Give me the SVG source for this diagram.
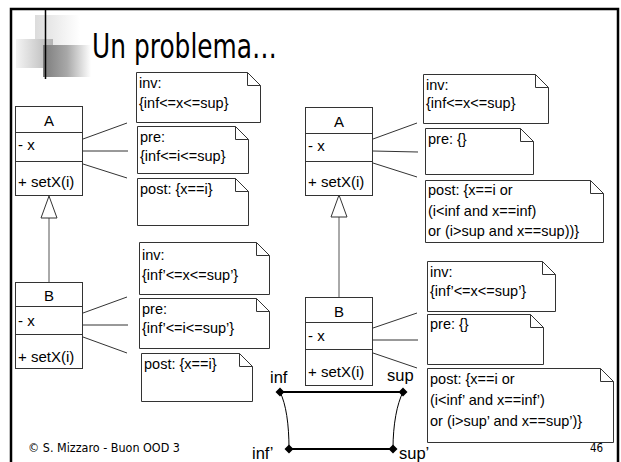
<svg xmlns="http://www.w3.org/2000/svg" width="621" height="462" viewBox="0 0 621 462">
<defs>
<linearGradient id="gLine" x1="0" y1="0" x2="1" y2="0"><stop offset="0" stop-color="#000"/><stop offset="1" stop-color="#888"/></linearGradient>
<linearGradient id="gLight" x1="0" y1="0" x2="1" y2="0"><stop offset="0" stop-color="#dcdcdc"/><stop offset="1" stop-color="#fff"/></linearGradient>
<linearGradient id="gMid" x1="0" y1="0" x2="1" y2="0"><stop offset="0" stop-color="#f4f4f4"/><stop offset="1" stop-color="#b4b4b4"/></linearGradient>
<linearGradient id="gDark" x1="0" y1="0" x2="1" y2="0"><stop offset="0" stop-color="#7c7c7c"/><stop offset="0.5" stop-color="#a8a8a8"/><stop offset="1" stop-color="#fff"/></linearGradient>
<style>
.box{fill:#fff;stroke:#333;stroke-width:1}
.note{fill:#fff;stroke:#333;stroke-width:1}
.fold{fill:none;stroke:#333;stroke-width:1}
.t{font-family:"Liberation Sans",Arial,sans-serif;font-size:14.5px;fill:#000}
.c{font-family:"Liberation Sans",Arial,sans-serif;font-size:15px;fill:#000}
.lk{stroke:#333;stroke-width:1;fill:none}
.lab{font-family:"Liberation Sans",Arial,sans-serif;font-size:16.5px;fill:#000}
</style>
</defs>
<rect width="621" height="462" fill="#fff"/>
<!-- slide frame -->
<path d="M11,462 V9 H618 V462" fill="none" stroke="#000" stroke-width="2.5"/>
<!-- title decoration -->
<rect x="35" y="15" width="45" height="30" fill="url(#gLight)"/>
<rect x="16" y="39" width="37" height="29" fill="url(#gMid)"/>
<rect x="43" y="45" width="48" height="32" fill="url(#gDark)"/>
<line x1="39" y1="22" x2="612" y2="22" stroke="url(#gLine)" stroke-width="1.5"/>
<line x1="45.5" y1="9" x2="45.5" y2="79" stroke="#000" stroke-width="1.5"/>
<text x="92" y="58" font-family="'DejaVu Sans',Tahoma,sans-serif" font-size="34" textLength="185" lengthAdjust="spacingAndGlyphs">Un problema…</text>

<g id="connectors">
<path class="lk" d="M83,139 L127,123 M83,151 L128,151 M83,164 L127,178"/>
<path class="lk" d="M83,313 L127,297 M83,325 L128,325 M83,337 L127,353"/>
<path class="lk" d="M373,139 L417,123 M373,151 L418,152 M373,163 L417,177"/>
<path class="lk" d="M373,328 L417,313 M373,340 L418,340 M373,353 L417,368"/>
<line x1="49" y1="218" x2="49" y2="282" stroke="#555" stroke-width="1"/>
<polygon points="49,196 41,218 57,218" fill="#fff" stroke="#333" stroke-width="1"/>
<line x1="339" y1="217" x2="339" y2="297" stroke="#555" stroke-width="1"/>
<polygon points="339,195 331,217 347,217" fill="#fff" stroke="#333" stroke-width="1"/>
</g>

<g id="classA1">
<rect class="box" x="15.5" y="106.5" width="67" height="89"/>
<path class="lk" d="M15.5,132.5 H82.5 M15.5,161.5 H82.5"/>
<text class="c" x="49" y="126" text-anchor="middle">A</text>
<text class="c" x="18" y="150">- x</text>
<text class="c" x="18" y="187">+ setX(i)</text>
</g>
<g id="classB1">
<rect class="box" x="15.5" y="282.5" width="67" height="86"/>
<path class="lk" d="M15.5,306.5 H82.5 M15.5,334.5 H82.5"/>
<text class="c" x="49" y="301" text-anchor="middle">B</text>
<text class="c" x="18" y="326">- x</text>
<text class="c" x="18" y="362">+ setX(i)</text>
</g>
<g id="classA2">
<rect class="box" x="305.5" y="107.5" width="67" height="88"/>
<path class="lk" d="M305.5,133.5 H372.5 M305.5,161.5 H372.5"/>
<text class="c" x="339" y="127" text-anchor="middle">A</text>
<text class="c" x="308" y="151">- x</text>
<text class="c" x="308" y="187">+ setX(i)</text>
</g>
<g id="classB2">
<rect class="box" x="305.5" y="297.5" width="67" height="88"/>
<path class="lk" d="M305.5,322.5 H372.5 M305.5,349.5 H372.5"/>
<text class="c" x="339" y="317" text-anchor="middle">B</text>
<text class="c" x="308" y="341">- x</text>
<text class="c" x="308" y="377">+ setX(i)</text>
</g>

<g id="noteInv1">
<path class="note" d="M136.5,72.5 H247.5 L260.5,85.5 V122.5 H136.5 Z"/>
<path class="fold" d="M247.5,72.5 V85.5 H260.5"/>
<text class="t" x="139" y="88">inv:</text>
<text class="t" x="139" y="108">{inf&lt;=x&lt;=sup}</text>
</g>
<g id="notePre1">
<path class="note" d="M137.5,126.5 H235.5 L248.5,139.5 V173.5 H137.5 Z"/>
<path class="fold" d="M235.5,126.5 V139.5 H248.5"/>
<text class="t" x="140" y="142">pre:</text>
<text class="t" x="140" y="161">{inf&lt;=i&lt;=sup}</text>
</g>
<g id="notePost1">
<path class="note" d="M137.5,178.5 H235.5 L248.5,191.5 V225.5 H137.5 Z"/>
<path class="fold" d="M235.5,178.5 V191.5 H248.5"/>
<text class="t" x="140" y="194">post: {x==i}</text>
</g>

<g id="noteInv2">
<path class="note" d="M139.5,242.5 H256.5 L269.5,255.5 V294.5 H139.5 Z"/>
<path class="fold" d="M256.5,242.5 V255.5 H269.5"/>
<text class="t" x="142" y="260">inv:</text>
<text class="t" x="142" y="280">{inf’&lt;=x&lt;=sup’}</text>
</g>
<g id="notePre2">
<path class="note" d="M139.5,298.5 H256.5 L269.5,311.5 V348.5 H139.5 Z"/>
<path class="fold" d="M256.5,298.5 V311.5 H269.5"/>
<text class="t" x="142" y="314">pre:</text>
<text class="t" x="142" y="333">{inf’&lt;=i&lt;=sup’}</text>
</g>
<g id="notePost2">
<path class="note" d="M141.5,353.5 H239.5 L252.5,366.5 V401.5 H141.5 Z"/>
<path class="fold" d="M239.5,353.5 V366.5 H252.5"/>
<text class="t" x="144" y="369">post: {x==i}</text>
</g>

<g id="noteInv3">
<path class="note" d="M423.5,74.5 H535.5 L548.5,87.5 V123.5 H423.5 Z"/>
<path class="fold" d="M535.5,74.5 V87.5 H548.5"/>
<text class="t" x="426" y="90">inv:</text>
<text class="t" x="426" y="108">{inf&lt;=x&lt;=sup}</text>
</g>
<g id="notePre3">
<path class="note" d="M425.5,128.5 H520.5 L533.5,141.5 V174.5 H425.5 Z"/>
<path class="fold" d="M520.5,128.5 V141.5 H533.5"/>
<text class="t" x="428" y="144">pre: {}</text>
</g>
<g id="notePost3">
<path class="note" d="M425.5,180.5 H590.5 L603.5,193.5 V242.5 H425.5 Z"/>
<path class="fold" d="M590.5,180.5 V193.5 H603.5"/>
<text class="t" x="428" y="195">post: {x==i or</text>
<text class="t" x="428" y="216">(i&lt;inf and x==inf)</text>
<text class="t" x="428" y="236">or (i&gt;sup and x==sup))}</text>
</g>

<g id="noteInv4">
<path class="note" d="M427.5,261.5 H542.5 L555.5,274.5 V311.5 H427.5 Z"/>
<path class="fold" d="M542.5,261.5 V274.5 H555.5"/>
<text class="t" x="430" y="277">inv:</text>
<text class="t" x="430" y="296">{inf’&lt;=x&lt;=sup’}</text>
</g>
<g id="notePre4">
<path class="note" d="M427.5,314.5 H530.5 L543.5,327.5 V364.5 H427.5 Z"/>
<path class="fold" d="M530.5,314.5 V327.5 H543.5"/>
<text class="t" x="430" y="329">pre: {}</text>
</g>
<g id="notePost4">
<path class="note" d="M427.5,368.5 H600.5 L613.5,381.5 V442.5 H427.5 Z"/>
<path class="fold" d="M600.5,368.5 V381.5 H613.5"/>
<text class="t" x="430" y="384">post: {x==i or</text>
<text class="t" x="430" y="405">(i&lt;inf’ and x==inf’)</text>
<text class="t" x="430" y="426">or (i&gt;sup’ and x==sup’)}</text>
</g>

<g id="range">
<path d="M280,392 C286,404 289,424 289,449" fill="none" stroke="#000" stroke-width="1"/>
<path d="M403,392 C397,404 393,424 393,449" fill="none" stroke="#000" stroke-width="1"/>
<line x1="280" y1="392" x2="403" y2="392" stroke="#000" stroke-width="2"/>
<line x1="289" y1="449" x2="393" y2="449" stroke="#000" stroke-width="2"/>
<path d="M280,387.5 L284.5,392 L280,396.5 L275.5,392 Z M403,387.5 L407.5,392 L403,396.5 L398.5,392 Z M289,444.5 L293.5,449 L289,453.5 L284.5,449 Z M393,444.5 L397.5,449 L393,453.5 L388.5,449 Z" fill="#000"/>
<text class="lab" x="270" y="383">inf</text>
<text class="lab" x="387" y="381">sup</text>
<text class="lab" x="252" y="459">inf’</text>
<text class="lab" x="399" y="459">sup’</text>
</g>

<text x="28" y="452" font-family="'DejaVu Sans Condensed','DejaVu Sans',sans-serif" font-size="11.5" textLength="152" lengthAdjust="spacingAndGlyphs">© S. Mizzaro - Buon OOD 3</text>
<text x="590" y="452" font-family="'DejaVu Sans Condensed','DejaVu Sans',sans-serif" font-size="11.5">46</text>
</svg>
